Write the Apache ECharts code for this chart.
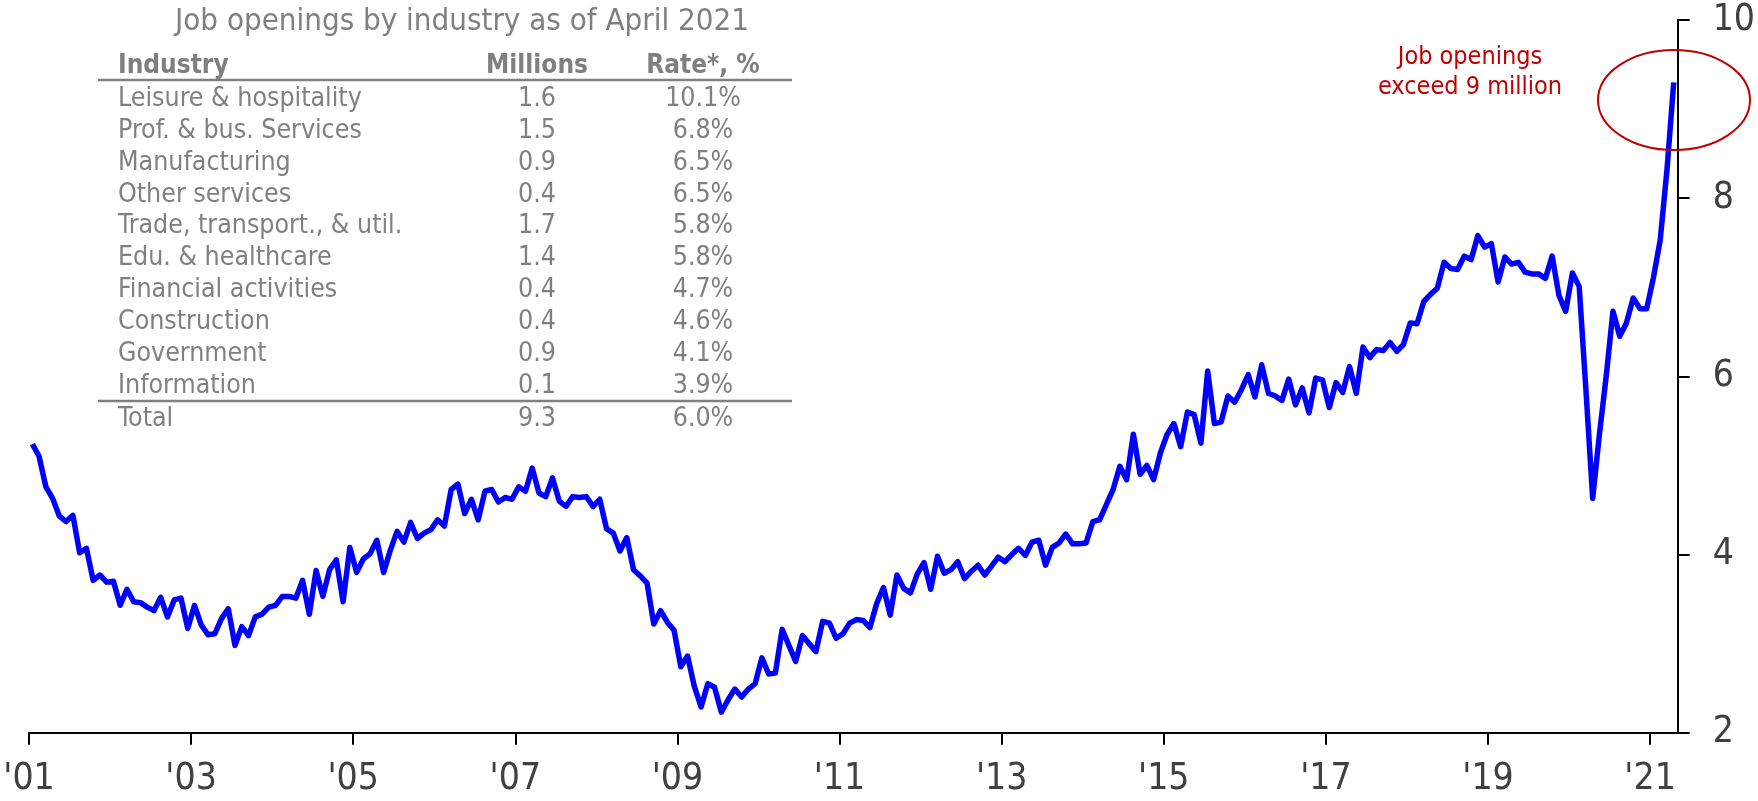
<!DOCTYPE html>
<html>
<head>
<meta charset="utf-8">
<script src="https://cdn.jsdelivr.net/npm/echarts@6/dist/echarts.min.js"></script>
<style>
  html, body { margin: 0; padding: 0; background: #ffffff; }
  #chart { width: 1758px; height: 801px; }
</style>
</head>
<body>
<div id="chart"></div>
<script>
// ---- Data: JOLTS job openings, millions, monthly (Jan 2001 - Apr 2021) ----
const startYear = 2001;
const open2001 = [5.24, 5.10, 4.76, 4.63, 4.43, 4.37, 4.44, 4.02, 4.07, 3.71, 3.77, 3.69];
const open2002 = [3.70, 3.43, 3.61, 3.47, 3.46, 3.41, 3.37, 3.52, 3.30, 3.49, 3.51, 3.17];
const open2003 = [3.43, 3.21, 3.10, 3.11, 3.28, 3.39, 2.98, 3.19, 3.09, 3.30, 3.33, 3.41];
const open2004 = [3.43, 3.53, 3.53, 3.51, 3.71, 3.33, 3.82, 3.53, 3.83, 3.94, 3.47, 4.08];
const open2005 = [3.80, 3.95, 4.01, 4.16, 3.80, 4.05, 4.26, 4.14, 4.36, 4.18, 4.24, 4.28];
const open2006 = [4.39, 4.32, 4.73, 4.79, 4.46, 4.62, 4.39, 4.71, 4.73, 4.59, 4.64, 4.62];
const open2007 = [4.76, 4.71, 4.97, 4.69, 4.65, 4.86, 4.60, 4.54, 4.65, 4.64, 4.65, 4.54];
const open2008 = [4.62, 4.29, 4.24, 4.04, 4.19, 3.83, 3.76, 3.68, 3.22, 3.37, 3.24, 3.15];
const open2009 = [2.74, 2.86, 2.52, 2.29, 2.55, 2.51, 2.23, 2.37, 2.49, 2.40, 2.49, 2.55];
const open2010 = [2.84, 2.66, 2.67, 3.16, 2.98, 2.80, 3.09, 3.00, 2.91, 3.25, 3.23, 3.06];
const open2011 = [3.11, 3.23, 3.27, 3.26, 3.18, 3.45, 3.63, 3.32, 3.77, 3.62, 3.57, 3.78];
const open2012 = [3.91, 3.61, 3.98, 3.79, 3.83, 3.92, 3.73, 3.81, 3.88, 3.77, 3.87, 3.97];
const open2013 = [3.92, 4.00, 4.07, 3.99, 4.14, 4.16, 3.88, 4.08, 4.13, 4.23, 4.12, 4.12];
const open2014 = [4.13, 4.37, 4.39, 4.56, 4.73, 4.99, 4.84, 5.35, 4.90, 5.00, 4.84, 5.14];
const open2015 = [5.35, 5.47, 5.21, 5.60, 5.57, 5.25, 6.06, 5.47, 5.49, 5.78, 5.71, 5.85];
const open2016 = [6.02, 5.77, 6.13, 5.81, 5.78, 5.73, 5.97, 5.68, 5.87, 5.59, 5.98, 5.96];
const open2017 = [5.65, 5.93, 5.82, 6.11, 5.81, 6.33, 6.21, 6.30, 6.29, 6.38, 6.28, 6.36];
const open2018 = [6.60, 6.59, 6.84, 6.92, 6.99, 7.28, 7.21, 7.20, 7.35, 7.31, 7.58, 7.45];
const open2019 = [7.49, 7.06, 7.34, 7.26, 7.28, 7.17, 7.15, 7.15, 7.10, 7.35, 6.91, 6.73];
const open2020 = [7.16, 7.01, 5.85, 4.63, 5.35, 6.00, 6.73, 6.45, 6.60, 6.88, 6.76, 6.76];
const open2021 = [7.11, 7.53, 8.32, 9.30];

const xTickYears = [2001, 2003, 2005, 2007, 2009, 2011, 2013, 2015, 2017, 2019, 2021];
const yTicks = [2, 4, 6, 8, 10];

// ---- Table data ----
const tableTitle = 'Job openings by industry as of April 2021';
const tableHeaders = ['Industry', 'Millions', 'Rate*, %'];
const industries = ['Leisure & hospitality', 'Prof. & bus. Services', 'Manufacturing', 'Other services',
  'Trade, transport., & util.', 'Edu. & healthcare', 'Financial activities', 'Construction',
  'Government', 'Information'];
const millions = ['1.6', '1.5', '0.9', '0.4', '1.7', '1.4', '0.4', '0.4', '0.9', '0.1'];
const rates = ['10.1%', '6.8%', '6.5%', '6.5%', '5.8%', '5.8%', '4.7%', '4.6%', '4.1%', '3.9%'];
const totalRow = ['Total', '9.3', '6.0%'];
const annotationLines = ['Job openings', 'exceed 9 million'];

// ---- Build series ----
const allYears = [open2001, open2002, open2003, open2004, open2005, open2006, open2007,
  open2008, open2009, open2010, open2011, open2012, open2013, open2014, open2015,
  open2016, open2017, open2018, open2019, open2020, open2021];
const seriesData = [];
allYears.forEach((arr, yi) => {
  arr.forEach((v, mi) => {
    seriesData.push([startYear + yi + (mi + 0.5) / 12, v]);
  });
});

const FONT = "'DejaVu Sans Condensed', 'DejaVu Sans', sans-serif";
const GRAY = '#808080';
const AXIS_TXT = '#404040';
const RED = '#c00000';

// ---- Table graphics ----
const colIndustryX = 118, colMillionsX = 537, colRateX = 703;
const headerY = 66, rowY0 = 99, rowStep = 31.9, totalY = 419;
const graphics = [];
graphics.push({ type: 'text', style: { text: tableTitle, x: 462, y: 22, align: 'center', verticalAlign: 'middle',
  fill: GRAY, fontSize: 31, fontFamily: FONT } });
const headerXs = [colIndustryX, colMillionsX, colRateX];
const headerAligns = ['left', 'center', 'center'];
tableHeaders.forEach((h, k) => {
  graphics.push({ type: 'text', style: { text: h, x: headerXs[k], y: headerY, align: headerAligns[k], verticalAlign: 'middle',
    fill: '#7f7f7f', fontSize: 26, fontWeight: 'bold', fontFamily: FONT } });
});
graphics.push({ type: 'line', shape: { x1: 98, y1: 80, x2: 792, y2: 80 }, style: { stroke: GRAY, lineWidth: 2.5 } });
industries.forEach((name, r) => {
  const y = rowY0 + r * rowStep;
  [name, millions[r], rates[r]].forEach((t, k) => {
    graphics.push({ type: 'text', style: { text: t, x: headerXs[k], y: y, align: headerAligns[k], verticalAlign: 'middle',
      fill: GRAY, fontSize: 26.5, fontFamily: FONT } });
  });
});
graphics.push({ type: 'line', shape: { x1: 98, y1: 401, x2: 792, y2: 401 }, style: { stroke: GRAY, lineWidth: 2.5 } });
totalRow.forEach((t, k) => {
  graphics.push({ type: 'text', style: { text: t, x: headerXs[k], y: totalY, align: headerAligns[k], verticalAlign: 'middle',
    fill: GRAY, fontSize: 26.5, fontFamily: FONT } });
});
// annotation
annotationLines.forEach((t, k) => {
  graphics.push({ type: 'text', style: { text: t, x: 1470, y: 57 + k * 30, align: 'center', verticalAlign: 'middle',
    fill: RED, fontSize: 25, fontFamily: FONT } });
});
graphics.push({ type: 'ellipse', shape: { cx: 1674, cy: 100, rx: 76, ry: 50 },
  style: { fill: 'transparent', stroke: RED, lineWidth: 2 }, z: 100 });

const chart = echarts.init(document.getElementById('chart'), null, { renderer: 'canvas' });
chart.setOption({
  animation: false,
  backgroundColor: '#ffffff',
  grid: { left: 29, right: 80, top: 20, bottom: 68.3, containLabel: false },
  xAxis: {
    type: 'value',
    min: 2001,
    max: 2021.34,
    axisLine: { show: true, lineStyle: { color: '#000', width: 2 } },
    axisTick: { show: true, customValues: xTickYears, length: 12, lineStyle: { color: '#000', width: 2 } },
    axisLabel: { customValues: xTickYears, formatter: v => "'" + String(Math.round(v)).slice(2),
      color: AXIS_TXT, fontSize: 37, fontFamily: FONT, margin: 28 },
    splitLine: { show: false }
  },
  yAxis: {
    type: 'value',
    position: 'right',
    min: 2, max: 10, interval: 2,
    axisLine: { show: true, lineStyle: { color: '#000', width: 2 } },
    axisTick: { show: true, inside: false, length: 12, lineStyle: { color: '#000', width: 2 } },
    axisLabel: { color: AXIS_TXT, fontSize: 37, fontFamily: FONT, margin: 35 },
    splitLine: { show: false }
  },
  series: [{
    type: 'line',
    data: seriesData,
    showSymbol: false,
    symbol: 'none',
    lineStyle: { color: '#0000ff', width: 5.5, join: 'round' },
    clip: false,
    z: 3
  }],
  graphic: graphics
});
</script>
</body>
</html>
